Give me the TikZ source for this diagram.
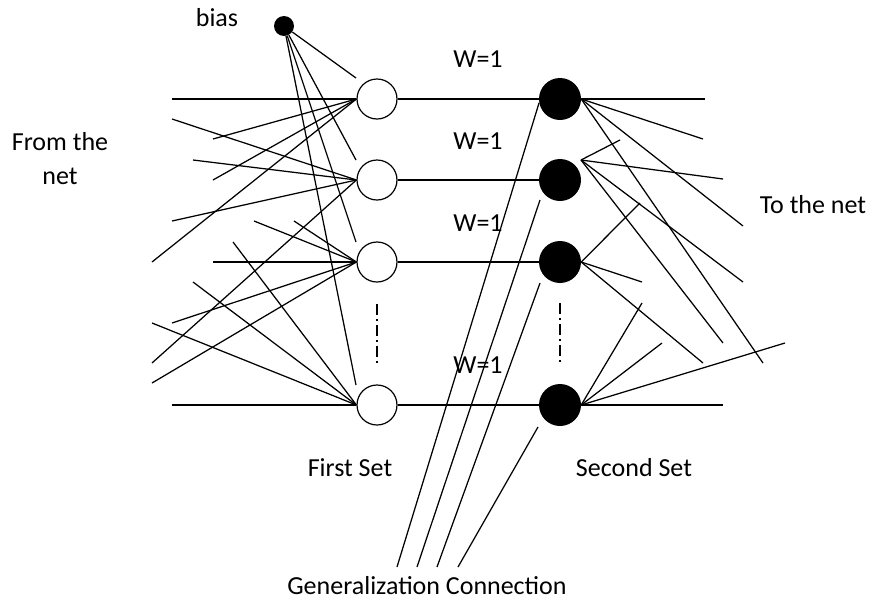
\documentclass[tikz,border=0pt]{standalone}
\usepackage{fontspec}
\setmainfont{Carlito}
\begin{document}
\begin{tikzpicture}[x=1pt,y=-1pt,
  wire/.style={line width=1.25pt},
  link/.style={line width=1.5pt},
  opencell/.style={circle, draw, line width=1.2pt, fill=white, minimum size=40pt, inner sep=0pt},
  solidcell/.style={circle, fill=black, minimum size=42pt, inner sep=0pt},
  biasdot/.style={circle, fill=black, minimum size=20pt, inner sep=0pt},
  lbl/.style={font=\fontsize{26}{34}\selectfont, inner sep=0pt},
  gap/.style={line width=1.2pt, dash pattern=on 11pt off 4pt on 2pt off 4pt}]
\useasboundingbox (0,0) rectangle (871,603);

% neurons
\node[biasdot] (b) at (284,26) {};
\foreach \i/\y in {1/99,2/180,3/262,4/405}{
  \node[opencell]  (f\i) at (377,\y) {};
  \node[solidcell] (s\i) at (560,\y) {};
}

% labels
\node[lbl, anchor=base] (tbias) at (217,26) {bias};
\node[lbl, align=center] (tfrom) at (60,159) {From the\\net};
\node[lbl, anchor=base] (tto) at (813,213) {To the net};
\foreach \i/\y in {1/67,2/149,3/231,4/373}
  \node[lbl, anchor=base] (w\i) at (478,\y) {W=1};
\node[lbl, anchor=base] (tfirst) at (350,476) {First Set};
\node[lbl, anchor=base] (tsecond) at (634,476) {Second Set};
\node[lbl, anchor=base] (tgen) at (427,594) {Generalization Connection};

% inputs from the net into the first set
\foreach \t/\x/\y [count=\k] in {
    1/172/99, 1/213/139, 1/213/180, 1/152/262,
    2/172/119, 2/193/160, 2/172/221, 2/152/363,
    3/213/262, 3/254/221, 3/294/221, 3/172/323, 3/152/383,
    4/172/405, 4/152/323, 4/193/282, 4/233/242}{
  \coordinate (in\k) at (\x,\y);
  \draw[wire] (in\k) -- (f\t.west);
}
\draw[link] (in1) -- (f1.west);
\draw[link] (in9) -- (f3.west);
\draw[link] (in14) -- (f4.west);

% bias links
\foreach \x/\y [count=\k] in {356/78, 356/160, 356/242, 356/385}{
  \coordinate (bb\k) at (\x,\y);
  \draw[wire] (b) -- (bb\k);
}

% unit weights between the sets
\foreach \i in {1,...,4}
  \draw[link] (f\i) -- (s\i);
\draw[gap] (f3) -- (f4) [shorten <=21pt, shorten >=20pt];
\draw[gap] (s3) -- (s4) [shorten <=20pt, shorten >=20pt];

% outputs to the net
\coordinate (s2hub) at (581,160);
\foreach \src/\x/\y [count=\k] in {
    s1.east/705/99, s1.east/703/139, s1.east/743/226, s1.east/763/363,
    s2hub/620/140, s2hub/723/179, s2hub/723/343, s2hub/743/282,
    s3.east/640/203, s3.east/642/282, s3.east/703/363,
    s4.east/642/303, s4.east/662/343, s4.east/785/343, s4.east/723/405}{
  \coordinate (out\k) at (\x,\y);
  \draw[wire] (\src) -- (out\k);
}
\draw[link] (s1.east) -- (out1);
\draw[link] (s4.east) -- (out15);

% generalization connection
\coordinate (g1) at (397,567);
\coordinate (g2) at (417,567);
\coordinate (g3) at (437,567);
\coordinate (g4) at (458,567);
\coordinate (e2) at (540,200);
\coordinate (e3) at (540,283);
\coordinate (e4) at (538,427);
\draw[wire] (g1) -- (s1.190);
\draw[wire] (g2) -- (e2);
\draw[wire] (g3) -- (e3);
\draw[wire] (g4) -- (e4);
\end{tikzpicture}
\end{document}
